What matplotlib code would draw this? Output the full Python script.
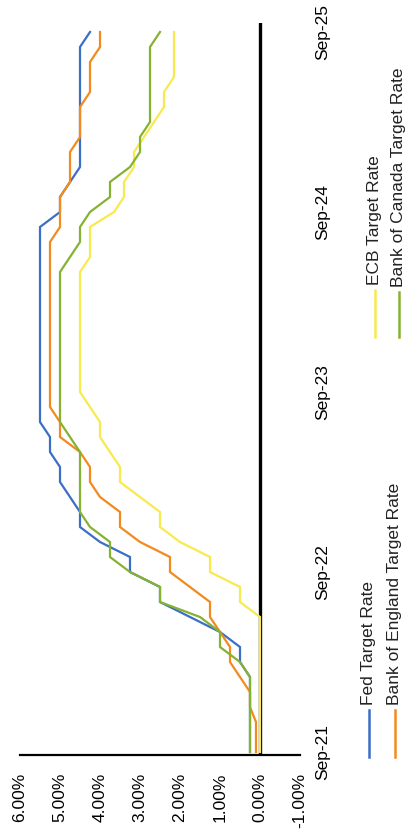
import matplotlib
matplotlib.use("Agg")
import matplotlib.pyplot as plt
from matplotlib.lines import Line2D
from matplotlib.ticker import FuncFormatter, FixedLocator

plt.rcParams['font.family'] = ['Liberation Sans', 'DejaVu Sans']

# ---- data (monthly, Sep-21 .. Sep-25) ----
months = ["Sep-21", "Oct-21", "Nov-21", "Dec-21", "Jan-22", "Feb-22", "Mar-22", "Apr-22",
          "May-22", "Jun-22", "Jul-22", "Aug-22", "Sep-22", "Oct-22", "Nov-22", "Dec-22",
          "Jan-23", "Feb-23", "Mar-23", "Apr-23", "May-23", "Jun-23", "Jul-23", "Aug-23",
          "Sep-23", "Oct-23", "Nov-23", "Dec-23", "Jan-24", "Feb-24", "Mar-24", "Apr-24",
          "May-24", "Jun-24", "Jul-24", "Aug-24", "Sep-24", "Oct-24", "Nov-24", "Dec-24",
          "Jan-25", "Feb-25", "Mar-25", "Apr-25", "May-25", "Jun-25", "Jul-25", "Aug-25",
          "Sep-25"]

fed = [0.25, 0.25, 0.25, 0.25, 0.25, 0.25, 0.50, 0.50, 1.00, 1.75, 2.50, 2.50,
       3.25, 3.25, 4.00, 4.50, 4.50, 4.75, 5.00, 5.00, 5.25, 5.25, 5.50, 5.50,
       5.50, 5.50, 5.50, 5.50, 5.50, 5.50, 5.50, 5.50, 5.50, 5.50, 5.50, 5.50,
       5.00, 5.00, 4.75, 4.50, 4.50, 4.50, 4.50, 4.50, 4.50, 4.50, 4.50, 4.50,
       4.25]

boe = [0.10, 0.10, 0.10, 0.25, 0.25, 0.50, 0.75, 0.75, 1.00, 1.25, 1.25, 1.75,
       2.25, 2.25, 3.00, 3.50, 3.50, 4.00, 4.25, 4.25, 4.50, 5.00, 5.00, 5.25,
       5.25, 5.25, 5.25, 5.25, 5.25, 5.25, 5.25, 5.25, 5.25, 5.25, 5.25, 5.00,
       5.00, 5.00, 4.75, 4.75, 4.75, 4.50, 4.50, 4.50, 4.25, 4.25, 4.25, 4.00,
       4.00]

ecb = [0.00, 0.00, 0.00, 0.00, 0.00, 0.00, 0.00, 0.00, 0.00, 0.00, 0.50, 0.50,
       1.25, 1.25, 2.00, 2.50, 2.50, 3.00, 3.50, 3.50, 3.75, 4.00, 4.00, 4.25,
       4.50, 4.50, 4.50, 4.50, 4.50, 4.50, 4.50, 4.50, 4.50, 4.25, 4.25, 4.25,
       3.65, 3.40, 3.40, 3.15, 3.15, 2.90, 2.65, 2.40, 2.40, 2.15, 2.15, 2.15,
       2.15]

boc = [0.25, 0.25, 0.25, 0.25, 0.25, 0.25, 0.50, 1.00, 1.00, 1.50, 2.50, 2.50,
       3.25, 3.75, 3.75, 4.25, 4.50, 4.50, 4.50, 4.50, 4.50, 4.75, 5.00, 5.00,
       5.00, 5.00, 5.00, 5.00, 5.00, 5.00, 5.00, 5.00, 5.00, 4.75, 4.50, 4.50,
       4.25, 3.75, 3.75, 3.25, 3.00, 3.00, 2.75, 2.75, 2.75, 2.75, 2.75, 2.75,
       2.50]

series_names = ["Fed Target Rate", "Bank of England Target Rate",
                "ECB Target Rate", "Bank of Canada Target Rate"]
series_values = [fed, boe, ecb, boc]
series_colors = ["#3B6FC6", "#F28A1E", "#F8EA4E", "#86B232"]

pct_ticks = [6, 5, 4, 3, 2, 1, 0, -1]
time_tick_labels = ["Sep-21", "Sep-22", "Sep-23", "Sep-24", "Sep-25"]

# ---- figure ----
W, H = 409, 840
fig = plt.figure(figsize=(W / 100, H / 100), dpi=100)
fig.patch.set_facecolor("white")

ax_left, ax_right = 20 / W, 300 / W
ax_bottom, ax_top = (H - 755) / H, (H - 23) / H
ax = fig.add_axes([ax_left, ax_bottom, ax_right - ax_left, ax_top - ax_bottom])

idx = list(range(len(months)))

ax.axvline(0, color="black", lw=2.4, zorder=1)
for name, vals, col in zip(series_names, series_values, series_colors):
    ax.plot(vals, idx, color=col, lw=1.6, zorder=2, solid_joinstyle="miter")

ax.set_xlim(6, -1)
ax.set_ylim(-0.2, 48.6)

ax.xaxis.set_major_locator(FixedLocator(pct_ticks))
ax.xaxis.set_major_formatter(FuncFormatter(lambda v, p: f"{v:.2f}%"))
ax.tick_params(axis="x", length=0, pad=13, labelsize=12.5, labelrotation=90)
for lab in ax.get_xticklabels():
    lab.set_va("top")
    lab.set_ha("center")

tick_pos = [months.index(m) for m in time_tick_labels]
ax.set_yticks(tick_pos)
ax.set_yticklabels(time_tick_labels)
ax.yaxis.tick_right()
ax.tick_params(axis="y", length=0, pad=11, labelsize=12.5)
for lab in ax.get_yticklabels():
    lab.set_rotation(90)
    lab.set_va("center")
    lab.set_ha("left")

for s in ["top", "left", "right"]:
    ax.spines[s].set_visible(False)
ax.spines["bottom"].set_color("black")
ax.spines["bottom"].set_linewidth(1.6)
ax.set_facecolor("white")

# ---- legend (rotated, built manually) ----
leg_slots = [  # (x px, line top px, line bottom px)
    (369, 710, 757),
    (395, 710, 757),
    (375, 290, 337),
    (399, 292, 337),
]
for (x, yt, yb), name, col in zip(leg_slots, series_names, series_colors):
    fx = x / W
    fig.add_artist(Line2D([fx, fx], [(H - yb) / H, (H - yt) / H],
                          transform=fig.transFigure, color=col, lw=1.8))
    fig.text(fx - 1 / W, (H - yt + 5) / H, name, rotation=90, ha="center", va="bottom",
             fontsize=12.5, color="#222222")

fig.savefig("out.png", dpi=100, facecolor="white")
